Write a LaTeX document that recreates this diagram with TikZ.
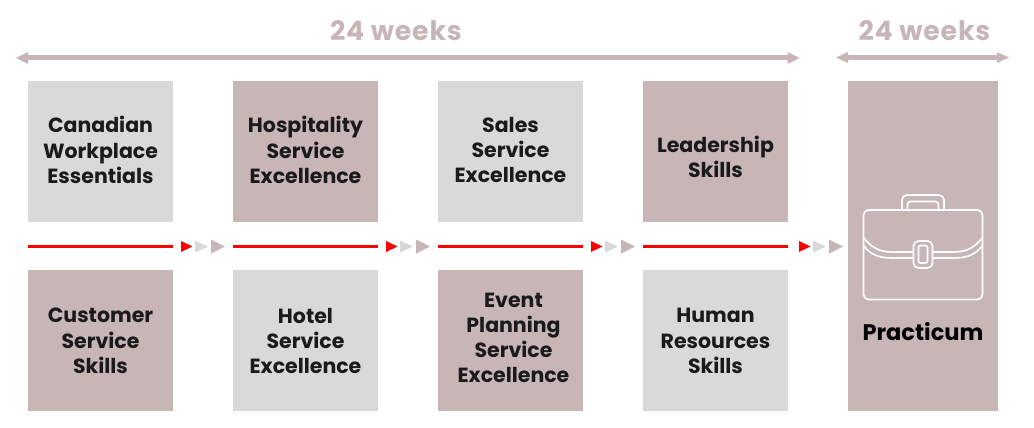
\documentclass[tikz,border=0pt]{standalone}
\usepackage{fontspec}
\setmainfont{Poppins}
\newfontfamily\weeksfont[LetterSpace=3]{Poppins}
\usepackage{tikz}
\definecolor{taupe}{HTML}{C8B6B6}
\definecolor{lightgrey}{HTML}{D9D9D9}
\definecolor{inkblack}{HTML}{1A1A1A}
\tikzset{
  greybox/.style={fill=lightgrey, minimum width=145pt, minimum height=141pt, inner sep=0pt},
  taupebox/.style={fill=taupe, minimum width=145pt, minimum height=141pt, inner sep=0pt},
  boxtext/.style={text=inkblack, align=center, inner sep=0pt, font=\fontsize{20.5}{25.2}\selectfont\bfseries},
  weekstext/.style={text=taupe, inner sep=0pt, font=\fontsize{26.8}{30}\selectfont\weeksfont\bfseries},
  spanline/.style={draw=taupe, line width=5pt},
  spanhead/.style={fill=taupe},
  redline/.style={draw=red, line width=3pt},
  icon/.style={draw=white, line width=1.6pt, rounded corners=5pt}
}
\begin{document}
\begin{tikzpicture}[x=1pt, y=-1pt]
\newcommand{\Rowy}{246.5}; % height of the red lines
\newcommand{\Toptext}{150}; % top row text centre
\useasboundingbox (0,0) rectangle (1034,428);

% top row
\node[greybox]  (canadian) at (100.5,151.5) {};
\node[taupebox] (hospitality) at (305.5,151.5) {};
\node[greybox]  (sales) at (510.5,151.5) {};
\node[taupebox] (leadership) at (715.5,151.5) {};

% bottom row
\node[taupebox] (customer) at (100.5,340.5) {};
\node[greybox]  (hotel) at (305.5,340.5) {};
\node[taupebox] (event) at (510.5,340.5) {};
\node[greybox]  (human) at (715.5,340.5) {};

% practicum column
\node[fill=taupe, minimum width=150pt, minimum height=330pt, inner sep=0pt] (practicum) at (923,246) {};

\node[boxtext] (canadiantext) at (100.5,\Toptext) {Canadian\\Workplace\\Essentials};
\node[boxtext] (hospitalitytext) at (305.5,\Toptext) {Hospitality\\Service\\Excellence};
\node[boxtext] (salestext) at (510.5,\Toptext) {Sales\\Service\\Excellence};
\node[boxtext] (leadershiptext) at (715.5,157) {Leadership\\Skills};
\node[boxtext] (customertext) at (100.5,341) {Customer\\Service\\Skills};
\node[boxtext] (hoteltext) at (305.5,341) {Hotel\\Service\\Excellence};
\node[boxtext] (eventtext) at (513.5,338) {Event\\Planning\\Service\\Excellence};
\node[boxtext] (humantext) at (715.5,341) {Human\\Resources\\Skills};
\node[boxtext, font=\fontsize{22.5}{26}\selectfont\bfseries, text=black] (practicumtext) at (923,332) {Practicum};

% duration arrows
\node[weekstext] (weeksa) at (396,30.5) {24 weeks};
\node[weekstext] (weeksb) at (924.5,30.5) {24 weeks};
\coordinate (AL) at (16,58);
\coordinate (AR) at (799.5,58);
\coordinate (BL) at (836,57.5);
\coordinate (BR) at (1009,57.5);
\draw[spanline] ([xshift=10pt]AL) -- ([xshift=-10pt]AR);
\draw[spanline] ([xshift=10pt]BL) -- ([xshift=-10pt]BR);
\fill[spanhead] (AL) -- ++(12,-6) -- ++(0,12) -- cycle;
\fill[spanhead] (AR) -- ++(-12,-6) -- ++(0,12) -- cycle;
\fill[spanhead] (BL) -- ++(12,-5.5) -- ++(0,11) -- cycle;
\fill[spanhead] (BR) -- ++(-12,-5.5) -- ++(0,11) -- cycle;

% red lines
\draw[redline] (canadian.west |- 0,\Rowy) -- (canadian.east |- 0,\Rowy);
\draw[redline] (hospitality.west |- 0,\Rowy) -- (hospitality.east |- 0,\Rowy);
\draw[redline] (sales.west |- 0,\Rowy) -- (sales.east |- 0,\Rowy);
\draw[redline] (leadership.west |- 0,\Rowy) -- (leadership.east |- 0,\Rowy);

% triangles after each line
\foreach \Startx in {181,386,591,799}{
  \fill[red] (\Startx,\Rowy-5.5) -- ++(11.5,5.5) -- ++(-11.5,5.5) -- cycle;
  \fill[lightgrey] (\Startx+14,\Rowy-6) -- ++(13,6) -- ++(-13,6) -- cycle;
  \fill[taupe] (\Startx+30,\Rowy-7) -- ++(14,7) -- ++(-14,7) -- cycle;
}

% briefcase
\draw[icon] (863.5,210) rectangle (982.5,299.5); % body
\draw[icon] (902,209.5) -- (902,195) -- (944,195) -- (944,209.5); % handle
\draw[icon, rounded corners=3pt] (907.5,209.5) -- (907.5,201.5) -- (938.5,201.5) -- (938.5,209.5);
\draw[icon] (913.5,241) rectangle (932.5,268); % buckle
\draw[icon, rounded corners=2pt] (918.5,245.5) rectangle (927.5,263);
\draw[draw=white, line width=1.6pt] (864,238) .. controls (870,246) and (878,252) .. (892,252) -- (913.5,252);
\draw[draw=white, line width=1.6pt] (982,238) .. controls (976,246) and (968,252) .. (954,252) -- (932.5,252);
\draw[draw=white, line width=1.6pt] (864,246) .. controls (870,254) and (878,258) .. (892,258) -- (913.5,258);
\draw[draw=white, line width=1.6pt] (982,246) .. controls (976,254) and (968,258) .. (954,258) -- (932.5,258);
\end{tikzpicture}
\end{document}
